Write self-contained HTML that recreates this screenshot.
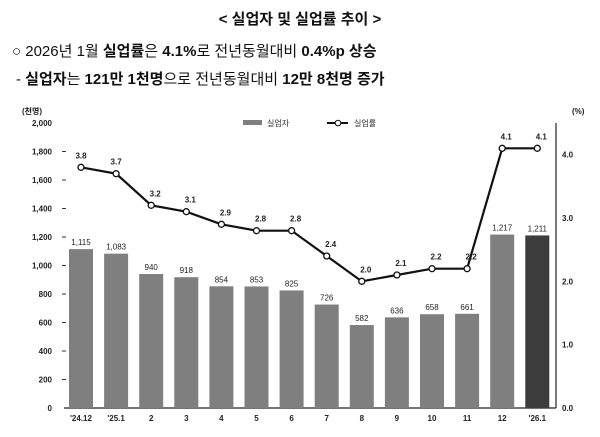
<!DOCTYPE html>
<html><head><meta charset="utf-8">
<style>
body{margin:0;width:600px;height:437px;background:#fff;font-family:"Liberation Sans","Noto Sans CJK KR",sans-serif;overflow:hidden;position:relative}
.t{position:absolute;white-space:nowrap;color:#111}
</style></head><body>
<div class="t" style="left:0;width:600px;text-align:center;top:8px;font-size:15px;font-weight:bold">&lt; 실업자 및 실업률 추이 &gt;</div>
<div class="t" style="left:12px;top:40px;font-size:15px">○ 2026년 1월 <b>실업률</b>은 <b>4.1%</b>로 전년동월대비 <b>0.4%p 상승</b></div>
<div class="t" style="left:16px;top:68px;font-size:15px">- <b>실업자</b>는 <b>121만 1천명</b>으로 전년동월대비 <b>12만 8천명 증가</b></div>
<svg id="chart" width="600" height="437" style="position:absolute;left:0;top:0"></svg>
<script>
const categories=["'24.12","'25.1","2","3","4","5","6","7","8","9","10","11","12","'26.1"];
const unemployed=[1115,1083,940,918,854,853,825,726,582,636,658,661,1217,1211];
const unemployedLabels=["1,115","1,083","940","918","854","853","825","726","582","636","658","661","1,217","1,211"];
const rate=[3.8,3.7,3.2,3.1,2.9,2.8,2.8,2.4,2.0,2.1,2.2,2.2,4.1,4.1];
const leftTicks=[0,200,400,600,800,1000,1200,1400,1600,1800,2000];
const leftTickLabels=["0","200","400","600","800","1,000","1,200","1,400","1,600","1,800","2,000"];
const rightTicks=[0,1,2,3,4];
const rightTickLabels=["0.0","1.0","2.0","3.0","4.0"];
const svg=document.getElementById('chart');
const NS="http://www.w3.org/2000/svg";
const y0=408,yTop=123,xL=64,xR=556;
const yL=v=>y0-(v/2000)*(y0-yTop);
const yR=v=>y0-(v/4.5)*(y0-yTop);
const xC=i=>81+i*35.1;
function mk(tag,attrs,txt){const e=document.createElementNS(NS,tag);for(const k in attrs)e.setAttribute(k,attrs[k]);if(txt!==undefined)e.textContent=txt;svg.appendChild(e);return e;}
let e;
e=mk('line',{x1:xL,y1:y0,x2:xR,y2:y0,stroke:'#222','stroke-width':1.2});


e=mk('line',{x1:xR,y1:yR(4.5),x2:xR,y2:y0,stroke:'#222','stroke-width':1.2});


leftTicks.forEach((v,i)=>{
 if(v>0&&v<2000){e=mk('line',{x1:62,y1:yL(v),x2:66,y2:yL(v),stroke:'#333'});
 
 }
 e=mk('text',{x:52,y:yL(v)+3,'font-size':8,'font-weight':'bold','text-anchor':'end',fill:'#222'},leftTickLabels[i]);
 
 
});
rightTicks.forEach((v,i)=>{
 e=mk('text',{x:562,y:yR(v)+3,'font-size':8,'font-weight':'bold',fill:'#222'},rightTickLabels[i]);
 
 
});
e=mk('text',{x:22,y:114,'font-size':8,'font-weight':'bold',fill:'#222'},'(천명)');


e=mk('text',{x:572,y:114,'font-size':8,'font-weight':'bold',fill:'#222'},'(%)');


categories.forEach((c,i)=>{
 const last=i===categories.length-1;
 e=mk('rect',{x:xC(i)-12,y:yL(unemployed[i]),width:24,height:y0-yL(unemployed[i]),fill:last?'#3c3c3c':'#7f7f7f'});
 
 
 e=mk('text',{x:xC(i),y:yL(unemployed[i])-4,'font-size':8,'text-anchor':'middle',fill:'#222'},unemployedLabels[i]);
 
 
 e=mk('text',{x:xC(i),y:421,'font-size':8,'font-weight':'bold','text-anchor':'middle',fill:'#222'},c);
 
 
});
e=mk('polyline',{points:rate.map((v,i)=>xC(i)+','+yR(v)).join(' '),fill:'none',stroke:'#111','stroke-width':2.2});


rate.forEach((v,i)=>{
 e=mk('circle',{cx:xC(i),cy:yR(v),r:3,fill:'#fff',stroke:'#111','stroke-width':1.3});
 
 
 e=mk('text',{x:xC(i)+(i<2?0:4),y:yR(v)-9,'font-size':8,'font-weight':'bold','text-anchor':'middle',fill:'#222'},v.toFixed(1));
 
 
});
e=mk('rect',{x:243,y:120,width:19,height:5,fill:'#7f7f7f'});


e=mk('text',{x:267,y:126,'font-size':8,fill:'#333'},'실업자');


e=mk('line',{x1:327,y1:123,x2:348,y2:123,stroke:'#111','stroke-width':2});


e=mk('circle',{cx:338,cy:123,r:2.8,fill:'#fff',stroke:'#111'});


e=mk('text',{x:354,y:126,'font-size':8,fill:'#333'},'실업률');


</script>
</body></html>
